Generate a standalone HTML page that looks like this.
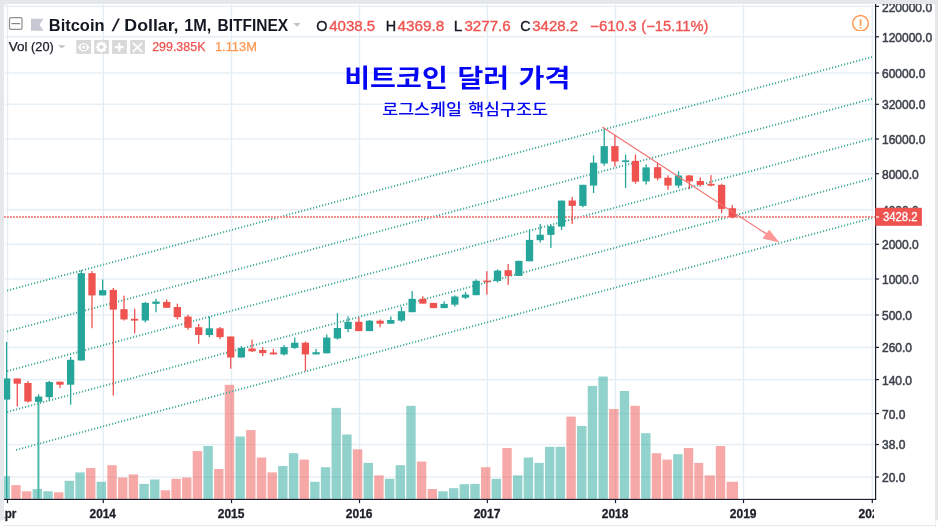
<!DOCTYPE html>
<html lang="ko"><head><meta charset="utf-8"><title>Bitcoin / Dollar, 1M, BITFINEX</title>
<style>html,body{margin:0;padding:0;background:#fff;overflow:hidden}svg{display:block}text{font-family:"Liberation Sans","Noto Sans CJK KR",sans-serif}.ax{font-size:12px;fill:#3c414b;stroke:#3c414b;stroke-width:.5px}.tm{font-size:11.5px;font-weight:bold;fill:#1c1f28}.ko{font-family:"Noto Sans CJK KR","NanumGothic",sans-serif}</style></head><body>
<svg width="938" height="528" viewBox="0 0 938 528">
<rect x="0" y="0" width="938" height="528" fill="#e4e8eb"/>
<path d="M4 528V7a3 3 0 0 1 3-3H932a3 3 0 0 1 3 3V528Z" fill="#fff"/>
<rect x="4" y="525" width="931" height="1.2" fill="#e6eaed"/>
<path d="M0 528V523a3 3 0 0 1 3-3H4V528Z" fill="#fff"/>
<path d="M938 528V522a2 2 0 0 0-2-2H935.6V528Z" fill="#fff"/>
<g fill="#e5eef4">
<rect x="5" y="5.7" width="870" height="1.4"/>
<rect x="5" y="36.1" width="870" height="1.4"/>
<rect x="5" y="72.3" width="870" height="1.4"/>
<rect x="5" y="103.6" width="870" height="1.4"/>
<rect x="5" y="138.3" width="870" height="1.4"/>
<rect x="5" y="173.0" width="870" height="1.4"/>
<rect x="5" y="209.0" width="870" height="1.4"/>
<rect x="5" y="243.6" width="870" height="1.4"/>
<rect x="5" y="278.3" width="870" height="1.4"/>
<rect x="5" y="314.3" width="870" height="1.4"/>
<rect x="5" y="346.7" width="870" height="1.4"/>
<rect x="5" y="378.9" width="870" height="1.4"/>
<rect x="5" y="412.9" width="870" height="1.4"/>
<rect x="5" y="443.8" width="870" height="1.4"/>
<rect x="5" y="476.3" width="870" height="1.4"/>
<rect x="6.8" y="4" width="1.4" height="495"/>
<rect x="102.6" y="4" width="1.4" height="495"/>
<rect x="230.8" y="4" width="1.4" height="495"/>
<rect x="358.8" y="4" width="1.4" height="495"/>
<rect x="486.7" y="4" width="1.4" height="495"/>
<rect x="614.8" y="4" width="1.4" height="495"/>
<rect x="742.8" y="4" width="1.4" height="495"/>
<rect x="871.6" y="4" width="1.4" height="495"/>
</g>
<g>
<rect x="4.00" y="476.2" width="6.00" height="22.8" fill="rgba(38,166,154,.5)"/>
<rect x="11.28" y="485.1" width="9.40" height="13.9" fill="rgba(239,83,80,.5)"/>
<rect x="21.95" y="491.3" width="9.40" height="7.7" fill="rgba(239,83,80,.5)"/>
<rect x="32.63" y="489.0" width="9.40" height="10.0" fill="rgba(38,166,154,.5)"/>
<rect x="43.30" y="491.3" width="9.40" height="7.7" fill="rgba(38,166,154,.5)"/>
<rect x="53.98" y="492.3" width="9.40" height="6.7" fill="rgba(239,83,80,.5)"/>
<rect x="64.65" y="480.8" width="9.40" height="18.2" fill="rgba(38,166,154,.5)"/>
<rect x="75.33" y="472.4" width="9.40" height="26.6" fill="rgba(38,166,154,.5)"/>
<rect x="86.00" y="468.0" width="9.40" height="31.0" fill="rgba(239,83,80,.5)"/>
<rect x="96.67" y="481.8" width="9.40" height="17.2" fill="rgba(38,166,154,.5)"/>
<rect x="107.35" y="465.2" width="9.40" height="33.8" fill="rgba(239,83,80,.5)"/>
<rect x="118.03" y="477.5" width="9.40" height="21.5" fill="rgba(239,83,80,.5)"/>
<rect x="128.70" y="474.4" width="9.40" height="24.6" fill="rgba(239,83,80,.5)"/>
<rect x="139.38" y="483.9" width="9.40" height="15.1" fill="rgba(38,166,154,.5)"/>
<rect x="150.05" y="479.5" width="9.40" height="19.5" fill="rgba(38,166,154,.5)"/>
<rect x="160.72" y="490.3" width="9.40" height="8.7" fill="rgba(239,83,80,.5)"/>
<rect x="171.40" y="478.8" width="9.40" height="20.2" fill="rgba(239,83,80,.5)"/>
<rect x="182.08" y="477.5" width="9.40" height="21.5" fill="rgba(239,83,80,.5)"/>
<rect x="192.75" y="451.1" width="9.40" height="47.9" fill="rgba(239,83,80,.5)"/>
<rect x="203.43" y="446.0" width="9.40" height="53.0" fill="rgba(38,166,154,.5)"/>
<rect x="214.10" y="469.0" width="9.40" height="30.0" fill="rgba(239,83,80,.5)"/>
<rect x="224.78" y="384.8" width="9.40" height="114.2" fill="rgba(239,83,80,.5)"/>
<rect x="235.45" y="436.5" width="9.40" height="62.5" fill="rgba(38,166,154,.5)"/>
<rect x="246.12" y="430.1" width="9.40" height="68.9" fill="rgba(239,83,80,.5)"/>
<rect x="256.80" y="457.5" width="9.40" height="41.5" fill="rgba(239,83,80,.5)"/>
<rect x="267.48" y="472.4" width="9.40" height="26.6" fill="rgba(239,83,80,.5)"/>
<rect x="278.15" y="466.0" width="9.40" height="33.0" fill="rgba(38,166,154,.5)"/>
<rect x="288.83" y="453.2" width="9.40" height="45.8" fill="rgba(38,166,154,.5)"/>
<rect x="299.50" y="459.6" width="9.40" height="39.4" fill="rgba(239,83,80,.5)"/>
<rect x="310.18" y="481.8" width="9.40" height="17.2" fill="rgba(38,166,154,.5)"/>
<rect x="320.85" y="467.2" width="9.40" height="31.8" fill="rgba(38,166,154,.5)"/>
<rect x="331.53" y="407.9" width="9.40" height="91.1" fill="rgba(38,166,154,.5)"/>
<rect x="342.20" y="434.5" width="9.40" height="64.5" fill="rgba(38,166,154,.5)"/>
<rect x="352.88" y="449.3" width="9.40" height="49.7" fill="rgba(239,83,80,.5)"/>
<rect x="363.55" y="462.9" width="9.40" height="36.1" fill="rgba(38,166,154,.5)"/>
<rect x="374.23" y="475.4" width="9.40" height="23.6" fill="rgba(239,83,80,.5)"/>
<rect x="384.90" y="478.8" width="9.40" height="20.2" fill="rgba(38,166,154,.5)"/>
<rect x="395.58" y="465.2" width="9.40" height="33.8" fill="rgba(38,166,154,.5)"/>
<rect x="406.25" y="405.8" width="9.40" height="93.2" fill="rgba(38,166,154,.5)"/>
<rect x="416.93" y="461.6" width="9.40" height="37.4" fill="rgba(239,83,80,.5)"/>
<rect x="427.60" y="489.0" width="9.40" height="10.0" fill="rgba(239,83,80,.5)"/>
<rect x="438.28" y="491.3" width="9.40" height="7.7" fill="rgba(38,166,154,.5)"/>
<rect x="448.95" y="488.2" width="9.40" height="10.8" fill="rgba(38,166,154,.5)"/>
<rect x="459.63" y="484.2" width="9.40" height="14.8" fill="rgba(38,166,154,.5)"/>
<rect x="470.30" y="483.9" width="9.40" height="15.1" fill="rgba(38,166,154,.5)"/>
<rect x="480.98" y="467.2" width="9.40" height="31.8" fill="rgba(239,83,80,.5)"/>
<rect x="491.65" y="478.8" width="9.40" height="20.2" fill="rgba(38,166,154,.5)"/>
<rect x="502.33" y="448.0" width="9.40" height="51.0" fill="rgba(239,83,80,.5)"/>
<rect x="513.00" y="475.4" width="9.40" height="23.6" fill="rgba(38,166,154,.5)"/>
<rect x="523.68" y="457.5" width="9.40" height="41.5" fill="rgba(38,166,154,.5)"/>
<rect x="534.35" y="462.9" width="9.40" height="36.1" fill="rgba(38,166,154,.5)"/>
<rect x="545.03" y="446.8" width="9.40" height="52.2" fill="rgba(38,166,154,.5)"/>
<rect x="555.70" y="446.8" width="9.40" height="52.2" fill="rgba(38,166,154,.5)"/>
<rect x="566.38" y="416.6" width="9.40" height="82.4" fill="rgba(239,83,80,.5)"/>
<rect x="577.05" y="426.0" width="9.40" height="73.0" fill="rgba(38,166,154,.5)"/>
<rect x="587.73" y="385.9" width="9.40" height="113.1" fill="rgba(38,166,154,.5)"/>
<rect x="598.40" y="376.5" width="9.40" height="122.5" fill="rgba(38,166,154,.5)"/>
<rect x="609.08" y="409.0" width="9.40" height="90.0" fill="rgba(239,83,80,.5)"/>
<rect x="619.75" y="391.0" width="9.40" height="108.0" fill="rgba(38,166,154,.5)"/>
<rect x="630.43" y="405.8" width="9.40" height="93.2" fill="rgba(239,83,80,.5)"/>
<rect x="641.10" y="433.2" width="9.40" height="65.8" fill="rgba(38,166,154,.5)"/>
<rect x="651.78" y="453.2" width="9.40" height="45.8" fill="rgba(239,83,80,.5)"/>
<rect x="662.45" y="459.6" width="9.40" height="39.4" fill="rgba(239,83,80,.5)"/>
<rect x="673.13" y="454.2" width="9.40" height="44.8" fill="rgba(38,166,154,.5)"/>
<rect x="683.80" y="448.0" width="9.40" height="51.0" fill="rgba(239,83,80,.5)"/>
<rect x="694.30" y="462.9" width="8.90" height="36.1" fill="rgba(239,83,80,.5)"/>
<rect x="704.60" y="475.4" width="10.30" height="23.6" fill="rgba(239,83,80,.5)"/>
<rect x="715.83" y="446.0" width="9.40" height="53.0" fill="rgba(239,83,80,.5)"/>
<rect x="726.60" y="481.8" width="11.40" height="17.2" fill="rgba(239,83,80,.5)"/>
</g>
<g stroke="#4aae9c" stroke-width="1.9" stroke-dasharray="1.2 1.8" fill="none">
<line x1="7" y1="0" x2="872.0" y2="0" transform="matrix(1 -0.27010 0 1 0 292.53)"/>
<line x1="7" y1="0" x2="872.0" y2="0" transform="matrix(1 -0.26906 0 1 0 333.32)"/>
<line x1="7" y1="0" x2="872.0" y2="0" transform="matrix(1 -0.26894 0 1 0 373.02)"/>
<line x1="7" y1="0" x2="872.0" y2="0" transform="matrix(1 -0.27010 0 1 0 413.83)"/>
<line x1="16" y1="0" x2="872.0" y2="0" transform="matrix(1 -0.27098 0 1 0 454.30)"/>
</g>
<line x1="4" y1="217" x2="875" y2="217" stroke="#f28a88" stroke-width="2" stroke-dasharray="1.9 1.1"/>
<g>
<rect x="5.95" y="341.9" width="1.3" height="156.6" fill="#26a69a"/>
<rect x="4.00" y="378.4" width="6.25" height="21.2" fill="#26a69a"/>
<rect x="16.62" y="378.5" width="1.3" height="28.0" fill="#ef5350"/>
<rect x="13.62" y="378.5" width="7.30" height="5.2" fill="#ef5350"/>
<rect x="27.29" y="381.0" width="1.3" height="21.5" fill="#ef5350"/>
<rect x="24.29" y="383.0" width="7.30" height="18.5" fill="#ef5350"/>
<rect x="37.42" y="401.9" width="2" height="96.6" fill="#4fb6ab"/>
<rect x="37.97" y="394.3" width="1.3" height="7.6" fill="#26a69a"/>
<rect x="34.97" y="396.6" width="7.30" height="5.3" fill="#26a69a"/>
<rect x="48.64" y="381.0" width="1.3" height="20.0" fill="#26a69a"/>
<rect x="45.64" y="382.0" width="7.30" height="15.2" fill="#26a69a"/>
<rect x="59.31" y="381.7" width="1.3" height="6.3" fill="#ef5350"/>
<rect x="56.31" y="381.7" width="7.30" height="3.0" fill="#ef5350"/>
<rect x="69.98" y="356.9" width="1.3" height="47.9" fill="#26a69a"/>
<rect x="66.98" y="359.8" width="7.30" height="24.9" fill="#26a69a"/>
<rect x="80.65" y="270.2" width="1.3" height="90.3" fill="#26a69a"/>
<rect x="77.65" y="273.2" width="7.30" height="87.3" fill="#26a69a"/>
<rect x="91.33" y="271.0" width="1.3" height="57.2" fill="#ef5350"/>
<rect x="88.33" y="273.2" width="7.30" height="22.2" fill="#ef5350"/>
<rect x="102.00" y="279.5" width="1.3" height="15.9" fill="#26a69a"/>
<rect x="99.00" y="290.2" width="7.30" height="5.2" fill="#26a69a"/>
<rect x="112.67" y="287.9" width="1.3" height="107.7" fill="#ef5350"/>
<rect x="109.67" y="289.9" width="7.30" height="19.7" fill="#ef5350"/>
<rect x="123.34" y="295.6" width="1.3" height="24.9" fill="#ef5350"/>
<rect x="120.34" y="309.2" width="7.30" height="10.2" fill="#ef5350"/>
<rect x="134.01" y="308.8" width="1.3" height="24.6" fill="#ef5350"/>
<rect x="131.01" y="318.8" width="7.30" height="1.8" fill="#ef5350"/>
<rect x="144.69" y="302.0" width="1.3" height="20.5" fill="#26a69a"/>
<rect x="141.69" y="302.9" width="7.30" height="17.6" fill="#26a69a"/>
<rect x="155.36" y="298.7" width="1.3" height="13.6" fill="#26a69a"/>
<rect x="152.36" y="301.5" width="7.30" height="2.4" fill="#26a69a"/>
<rect x="166.03" y="299.5" width="1.3" height="8.3" fill="#ef5350"/>
<rect x="163.03" y="301.9" width="7.30" height="5.9" fill="#ef5350"/>
<rect x="176.70" y="303.7" width="1.3" height="15.7" fill="#ef5350"/>
<rect x="173.70" y="307.0" width="7.30" height="10.1" fill="#ef5350"/>
<rect x="187.37" y="314.7" width="1.3" height="15.1" fill="#ef5350"/>
<rect x="184.37" y="316.6" width="7.30" height="11.2" fill="#ef5350"/>
<rect x="198.05" y="324.0" width="1.3" height="19.8" fill="#ef5350"/>
<rect x="195.05" y="327.2" width="7.30" height="7.8" fill="#ef5350"/>
<rect x="208.72" y="316.6" width="1.3" height="20.5" fill="#26a69a"/>
<rect x="205.72" y="328.3" width="7.30" height="6.7" fill="#26a69a"/>
<rect x="219.39" y="327.0" width="1.3" height="12.1" fill="#ef5350"/>
<rect x="216.39" y="328.3" width="7.30" height="8.8" fill="#ef5350"/>
<rect x="230.06" y="336.5" width="1.3" height="32.2" fill="#ef5350"/>
<rect x="227.06" y="336.5" width="7.30" height="21.0" fill="#ef5350"/>
<rect x="240.73" y="346.0" width="1.3" height="11.5" fill="#26a69a"/>
<rect x="237.73" y="347.9" width="7.30" height="9.6" fill="#26a69a"/>
<rect x="251.41" y="339.6" width="1.3" height="12.4" fill="#ef5350"/>
<rect x="248.41" y="348.5" width="7.30" height="2.8" fill="#ef5350"/>
<rect x="262.08" y="347.1" width="1.3" height="9.1" fill="#ef5350"/>
<rect x="259.08" y="350.0" width="7.30" height="3.1" fill="#ef5350"/>
<rect x="272.75" y="348.9" width="1.3" height="5.5" fill="#ef5350"/>
<rect x="269.75" y="352.5" width="7.30" height="1.9" fill="#ef5350"/>
<rect x="283.42" y="345.0" width="1.3" height="10.5" fill="#26a69a"/>
<rect x="280.42" y="347.1" width="7.30" height="7.3" fill="#26a69a"/>
<rect x="294.09" y="337.6" width="1.3" height="11.3" fill="#26a69a"/>
<rect x="291.09" y="342.7" width="7.30" height="5.2" fill="#26a69a"/>
<rect x="304.77" y="341.6" width="1.3" height="29.6" fill="#ef5350"/>
<rect x="301.77" y="342.7" width="7.30" height="11.7" fill="#ef5350"/>
<rect x="315.44" y="348.9" width="1.3" height="5.5" fill="#26a69a"/>
<rect x="312.44" y="352.2" width="7.30" height="2.2" fill="#26a69a"/>
<rect x="326.11" y="334.5" width="1.3" height="18.8" fill="#26a69a"/>
<rect x="323.11" y="337.6" width="7.30" height="15.7" fill="#26a69a"/>
<rect x="336.78" y="313.2" width="1.3" height="26.4" fill="#26a69a"/>
<rect x="333.78" y="328.0" width="7.30" height="10.5" fill="#26a69a"/>
<rect x="347.45" y="316.3" width="1.3" height="15.9" fill="#26a69a"/>
<rect x="344.45" y="321.8" width="7.30" height="7.2" fill="#26a69a"/>
<rect x="358.13" y="317.3" width="1.3" height="13.8" fill="#ef5350"/>
<rect x="355.13" y="321.8" width="7.30" height="9.3" fill="#ef5350"/>
<rect x="368.80" y="320.0" width="1.3" height="11.1" fill="#26a69a"/>
<rect x="365.80" y="320.7" width="7.30" height="10.4" fill="#26a69a"/>
<rect x="379.47" y="319.5" width="1.3" height="7.8" fill="#ef5350"/>
<rect x="376.47" y="320.7" width="7.30" height="3.0" fill="#ef5350"/>
<rect x="390.14" y="316.4" width="1.3" height="7.3" fill="#26a69a"/>
<rect x="387.14" y="320.0" width="7.30" height="3.7" fill="#26a69a"/>
<rect x="400.81" y="307.0" width="1.3" height="14.8" fill="#26a69a"/>
<rect x="397.81" y="311.2" width="7.30" height="9.4" fill="#26a69a"/>
<rect x="411.49" y="291.0" width="1.3" height="21.2" fill="#26a69a"/>
<rect x="408.49" y="298.8" width="7.30" height="13.4" fill="#26a69a"/>
<rect x="422.16" y="296.2" width="1.3" height="7.4" fill="#ef5350"/>
<rect x="419.16" y="298.8" width="7.30" height="4.8" fill="#ef5350"/>
<rect x="432.83" y="302.9" width="1.3" height="5.2" fill="#ef5350"/>
<rect x="429.83" y="302.9" width="7.30" height="5.2" fill="#ef5350"/>
<rect x="443.50" y="301.3" width="1.3" height="6.8" fill="#26a69a"/>
<rect x="440.50" y="303.9" width="7.30" height="4.2" fill="#26a69a"/>
<rect x="454.17" y="295.4" width="1.3" height="11.2" fill="#26a69a"/>
<rect x="451.17" y="296.5" width="7.30" height="8.2" fill="#26a69a"/>
<rect x="464.85" y="292.0" width="1.3" height="7.0" fill="#26a69a"/>
<rect x="461.85" y="294.6" width="7.30" height="3.1" fill="#26a69a"/>
<rect x="475.52" y="279.4" width="1.3" height="15.8" fill="#26a69a"/>
<rect x="472.52" y="280.8" width="7.30" height="14.4" fill="#26a69a"/>
<rect x="486.19" y="271.2" width="1.3" height="23.4" fill="#ef5350"/>
<rect x="483.19" y="280.6" width="7.30" height="1.5" fill="#ef5350"/>
<rect x="496.86" y="269.4" width="1.3" height="13.2" fill="#26a69a"/>
<rect x="493.86" y="270.6" width="7.30" height="10.4" fill="#26a69a"/>
<rect x="507.53" y="263.9" width="1.3" height="21.0" fill="#ef5350"/>
<rect x="504.53" y="270.2" width="7.30" height="5.7" fill="#ef5350"/>
<rect x="518.21" y="260.8" width="1.3" height="15.1" fill="#26a69a"/>
<rect x="515.21" y="260.8" width="7.30" height="15.1" fill="#26a69a"/>
<rect x="528.88" y="229.3" width="1.3" height="32.0" fill="#26a69a"/>
<rect x="525.88" y="239.9" width="7.30" height="21.4" fill="#26a69a"/>
<rect x="539.55" y="224.0" width="1.3" height="18.5" fill="#26a69a"/>
<rect x="536.55" y="234.7" width="7.30" height="5.5" fill="#26a69a"/>
<rect x="550.22" y="224.6" width="1.3" height="23.3" fill="#26a69a"/>
<rect x="547.22" y="226.2" width="7.30" height="8.7" fill="#26a69a"/>
<rect x="560.89" y="200.6" width="1.3" height="29.4" fill="#26a69a"/>
<rect x="557.89" y="200.6" width="7.30" height="26.0" fill="#26a69a"/>
<rect x="571.57" y="197.0" width="1.3" height="27.1" fill="#ef5350"/>
<rect x="568.57" y="200.5" width="7.30" height="5.4" fill="#ef5350"/>
<rect x="582.24" y="184.8" width="1.3" height="22.5" fill="#26a69a"/>
<rect x="579.24" y="184.8" width="7.30" height="21.1" fill="#26a69a"/>
<rect x="592.91" y="155.4" width="1.3" height="37.6" fill="#26a69a"/>
<rect x="589.91" y="162.7" width="7.30" height="22.9" fill="#26a69a"/>
<rect x="603.58" y="128.1" width="1.3" height="37.7" fill="#26a69a"/>
<rect x="600.58" y="146.1" width="7.30" height="17.4" fill="#26a69a"/>
<rect x="614.25" y="135.2" width="1.3" height="31.4" fill="#ef5350"/>
<rect x="611.25" y="146.1" width="7.30" height="15.4" fill="#ef5350"/>
<rect x="624.93" y="154.5" width="1.3" height="33.4" fill="#26a69a"/>
<rect x="621.93" y="160.4" width="7.30" height="1.6" fill="#26a69a"/>
<rect x="634.80" y="154.5" width="1.3" height="29.2" fill="#ef5350"/>
<rect x="631.80" y="160.9" width="7.30" height="20.8" fill="#ef5350"/>
<rect x="645.47" y="164.3" width="1.3" height="20.2" fill="#26a69a"/>
<rect x="642.47" y="167.4" width="7.30" height="14.0" fill="#26a69a"/>
<rect x="656.94" y="163.2" width="1.3" height="17.2" fill="#ef5350"/>
<rect x="653.94" y="167.2" width="7.30" height="11.1" fill="#ef5350"/>
<rect x="667.31" y="175.3" width="1.3" height="14.5" fill="#ef5350"/>
<rect x="664.31" y="177.7" width="7.30" height="7.9" fill="#ef5350"/>
<rect x="677.89" y="171.2" width="1.3" height="16.8" fill="#26a69a"/>
<rect x="674.89" y="175.5" width="7.30" height="10.1" fill="#26a69a"/>
<rect x="688.76" y="175.0" width="1.3" height="14.2" fill="#ef5350"/>
<rect x="685.76" y="175.5" width="7.30" height="5.9" fill="#ef5350"/>
<rect x="699.63" y="177.4" width="1.3" height="9.3" fill="#ef5350"/>
<rect x="696.63" y="181.0" width="7.30" height="3.9" fill="#ef5350"/>
<rect x="710.30" y="175.2" width="1.3" height="11.2" fill="#ef5350"/>
<rect x="707.30" y="183.8" width="7.30" height="1.8" fill="#ef5350"/>
<rect x="720.97" y="183.6" width="1.3" height="29.5" fill="#ef5350"/>
<rect x="717.97" y="184.9" width="7.30" height="24.0" fill="#ef5350"/>
<rect x="731.65" y="205.1" width="1.3" height="13.2" fill="#ef5350"/>
<rect x="728.65" y="208.2" width="7.30" height="9.0" fill="#ef5350"/>
</g>
<line x1="602.3" y1="127" x2="768" y2="235" stroke="#f4706e" stroke-width="1.2"/>
<path d="M779.4 242.6L769.2 229.8L762.4 238.6Z" fill="#ff9696"/>
<rect x="4" y="498.85" width="872.2" height="1.15" fill="#1c2030"/>
<rect x="875" y="4" width="1.2" height="496" fill="#1c2030"/>
<g fill="#1c2030">
<rect x="876" y="5.8" width="3" height="1.2"/>
<rect x="876" y="36.2" width="3" height="1.2"/>
<rect x="876" y="72.4" width="3" height="1.2"/>
<rect x="876" y="103.7" width="3" height="1.2"/>
<rect x="876" y="138.4" width="3" height="1.2"/>
<rect x="876" y="173.1" width="3" height="1.2"/>
<rect x="876" y="209.1" width="3" height="1.2"/>
<rect x="876" y="243.7" width="3" height="1.2"/>
<rect x="876" y="278.4" width="3" height="1.2"/>
<rect x="876" y="314.4" width="3" height="1.2"/>
<rect x="876" y="346.8" width="3" height="1.2"/>
<rect x="876" y="379.0" width="3" height="1.2"/>
<rect x="876" y="413.0" width="3" height="1.2"/>
<rect x="876" y="443.9" width="3" height="1.2"/>
<rect x="876" y="476.4" width="3" height="1.2"/>
<rect x="6.9" y="499.5" width="1.2" height="3.6"/>
<rect x="102.7" y="499.5" width="1.2" height="3.6"/>
<rect x="230.9" y="499.5" width="1.2" height="3.6"/>
<rect x="358.9" y="499.5" width="1.2" height="3.6"/>
<rect x="486.8" y="499.5" width="1.2" height="3.6"/>
<rect x="614.9" y="499.5" width="1.2" height="3.6"/>
<rect x="742.9" y="499.5" width="1.2" height="3.6"/>
<rect x="871.7" y="499.5" width="1.2" height="3.6"/>
</g>
<defs><clipPath id="cp"><rect x="876" y="4" width="59" height="521"/></clipPath><clipPath id="ct"><rect x="4" y="500" width="870" height="25"/></clipPath></defs>
<g class="ax" clip-path="url(#cp)">
<text x="882" y="11.8">220000.0</text>
<text x="882" y="41.7">120000.0</text>
<text x="882" y="77.9">60000.0</text>
<text x="882" y="109.2">32000.0</text>
<text x="882" y="143.9">16000.0</text>
<text x="882" y="178.6">8000.0</text>
<text x="882" y="214.6">4000.0</text>
<text x="882" y="249.2">2000.0</text>
<text x="882" y="283.9">1000.0</text>
<text x="882" y="319.9">500.0</text>
<text x="882" y="352.3">260.0</text>
<text x="882" y="384.5">140.0</text>
<text x="882" y="418.5">70.0</text>
<text x="882" y="449.4">38.0</text>
<text x="882" y="481.9">20.0</text>
</g>
<rect x="875.3" y="207.8" width="46.6" height="18" fill="#ef5350"/>
<rect x="876" y="216.4" width="3" height="1.2" fill="#fff"/>
<text x="883" y="221" font-size="12" fill="#fff" stroke="#fff" stroke-width=".3" textLength="34.5" lengthAdjust="spacingAndGlyphs">3428.2</text>
<g clip-path="url(#ct)">
<text x="-3.7" y="517.9" font-size="12.2" font-weight="bold" fill="#1c1f28" stroke="#1c1f28" stroke-width=".3" textLength="20.1" lengthAdjust="spacingAndGlyphs">Apr</text>
<text x="89.58" y="517.9" font-size="12.2" fill="#1c1f28" font-weight="bold" textLength="26.33" lengthAdjust="spacingAndGlyphs" stroke="#1c1f28" stroke-width=".3">2014</text>
<text x="217.77" y="517.9" font-size="12.2" fill="#1c1f28" font-weight="bold" textLength="26.68" lengthAdjust="spacingAndGlyphs" stroke="#1c1f28" stroke-width=".3">2015</text>
<text x="345.77" y="517.9" font-size="12.2" fill="#1c1f28" font-weight="bold" textLength="26.77" lengthAdjust="spacingAndGlyphs" stroke="#1c1f28" stroke-width=".3">2016</text>
<text x="473.67" y="517.9" font-size="12.2" fill="#1c1f28" font-weight="bold" textLength="26.81" lengthAdjust="spacingAndGlyphs" stroke="#1c1f28" stroke-width=".3">2017</text>
<text x="601.77" y="517.9" font-size="12.2" fill="#1c1f28" font-weight="bold" textLength="26.70" lengthAdjust="spacingAndGlyphs" stroke="#1c1f28" stroke-width=".3">2018</text>
<text x="729.77" y="517.9" font-size="12.2" fill="#1c1f28" font-weight="bold" textLength="26.76" lengthAdjust="spacingAndGlyphs" stroke="#1c1f28" stroke-width=".3">2019</text>
<text x="858.57" y="517.9" font-size="12.2" fill="#1c1f28" font-weight="bold" textLength="26.80" lengthAdjust="spacingAndGlyphs" stroke="#1c1f28" stroke-width=".3">2020</text>
</g>
<rect x="9.5" y="17.7" width="12.5" height="11.7" rx="1.6" fill="#fff" stroke="#8e8e8e" stroke-width="1.2"/>
<rect x="11.4" y="23" width="8.7" height="1.2" fill="#858585"/>
<path d="M31 18.8H43.5L39.5 24.75L43.5 30.7H31Z" fill="#c6c9d4"/>
<path d="M293.3 23L300.7 23L297 26.8Z" fill="#c4c4c4"/>
<text transform="translate(111.6,30.6) skewX(-17)" font-size="17.2" font-weight="bold" fill="#131722">/</text>
<text x="48.77" y="30.6" font-size="17.2" fill="#131722" font-weight="bold" textLength="55.74" lengthAdjust="spacingAndGlyphs">Bitcoin</text>
<text x="124.39" y="30.6" font-size="17.2" fill="#131722" font-weight="bold" textLength="54.12" lengthAdjust="spacingAndGlyphs">Dollar,</text>
<text x="184.16" y="30.6" font-size="17.2" fill="#131722" font-weight="bold" textLength="27.12" lengthAdjust="spacingAndGlyphs">1M,</text>
<text x="217.44" y="30.6" font-size="17.2" fill="#131722" font-weight="bold" textLength="70.68" lengthAdjust="spacingAndGlyphs">BITFINEX</text>
<text x="316.26" y="30.6" font-size="14.4" fill="#131722" textLength="11.20" lengthAdjust="spacingAndGlyphs" stroke="#131722" stroke-width=".35">O</text>
<text x="329.24" y="30.6" font-size="14.4" fill="#ef5350" textLength="45.94" lengthAdjust="spacingAndGlyphs" stroke="#ef5350" stroke-width=".35">4038.5</text>
<text x="385.79" y="30.6" font-size="14.4" fill="#131722" textLength="10.39" lengthAdjust="spacingAndGlyphs" stroke="#131722" stroke-width=".35">H</text>
<text x="397.43" y="30.6" font-size="14.4" fill="#ef5350" textLength="46.93" lengthAdjust="spacingAndGlyphs" stroke="#ef5350" stroke-width=".35">4369.8</text>
<text x="453.70" y="30.6" font-size="14.4" fill="#131722" textLength="8.63" lengthAdjust="spacingAndGlyphs" stroke="#131722" stroke-width=".35">L</text>
<text x="464.44" y="30.6" font-size="14.4" fill="#ef5350" textLength="46.28" lengthAdjust="spacingAndGlyphs" stroke="#ef5350" stroke-width=".35">3277.6</text>
<text x="520.23" y="30.6" font-size="14.4" fill="#131722" textLength="10.29" lengthAdjust="spacingAndGlyphs" stroke="#131722" stroke-width=".35">C</text>
<text x="532.24" y="30.6" font-size="14.4" fill="#ef5350" textLength="45.82" lengthAdjust="spacingAndGlyphs" stroke="#ef5350" stroke-width=".35">3428.2</text>
<text x="590.13" y="30.6" font-size="14.4" fill="#ef5350" textLength="46.56" lengthAdjust="spacingAndGlyphs" stroke="#ef5350" stroke-width=".35">−610.3</text>
<text x="641.35" y="30.6" font-size="14.4" fill="#ef5350" textLength="67.16" lengthAdjust="spacingAndGlyphs" stroke="#ef5350" stroke-width=".35">(−15.11%)</text>
<text x="8.71" y="50.7" font-size="12.2" fill="#1c1f28" textLength="18.79" lengthAdjust="spacingAndGlyphs" stroke="#1c1f28" stroke-width=".25">Vol</text>
<text x="31.08" y="50.7" font-size="12.2" fill="#1c1f28" textLength="22.62" lengthAdjust="spacingAndGlyphs" stroke="#1c1f28" stroke-width=".25">(20)</text>
<path d="M58 45.3L65.6 45.3L61.8 48.6Z" fill="#c4c4c4"/>
<rect x="76.3" y="40" width="14.8" height="13.9" fill="#d9d9d9"/>
<rect x="94.1" y="40" width="14.8" height="13.9" fill="#d9d9d9"/>
<rect x="112.1" y="40" width="14.8" height="13.9" fill="#d9d9d9"/>
<rect x="130.1" y="40" width="14.8" height="13.9" fill="#d9d9d9"/>
<path d="M77.9 47.2Q83.65 38.6 89.4 47.2Q83.65 55.8 77.9 47.2Z" fill="#fff"/>
<circle cx="83.65" cy="47.2" r="2.3" fill="none" stroke="#d3d3d3" stroke-width="1.3"/>
<path d="M106.82 45.78L106.82 48.22L105.03 48.56L105.06 48.50L106.08 50.00L104.35 51.73L102.85 50.71L102.91 50.68L102.57 52.47L100.13 52.47L99.79 50.68L99.85 50.71L98.35 51.73L96.62 50.00L97.64 48.50L97.67 48.56L95.88 48.22L95.88 45.78L97.67 45.44L97.64 45.50L96.62 44.00L98.35 42.27L99.85 43.29L99.79 43.32L100.13 41.53L102.57 41.53L102.91 43.32L102.85 43.29L104.35 42.27L106.08 44.00L105.06 45.50L105.03 45.44Z" fill="#fff"/>
<circle cx="101.35" cy="47.00" r="2.1" fill="#d6d6d6"/>
<path d="M119.25 42.7V51.5M114.8 47.1H123.7" stroke="#fff" stroke-width="2.3" fill="none"/>
<path d="M132.8 42.8L142.2 51.8M142.2 42.8L132.8 51.8" stroke="#fff" stroke-width="1.8" fill="none"/>
<text x="152.16" y="51.4" font-size="12.2" fill="#ef5350" textLength="53.28" lengthAdjust="spacingAndGlyphs" stroke="#ef5350" stroke-width=".25">299.385K</text>
<text x="214.93" y="51.4" font-size="12.2" fill="#ff9850" textLength="41.94" lengthAdjust="spacingAndGlyphs" stroke="#ff9850" stroke-width=".25">1.113M</text>
<defs><clipPath id="ca"><rect x="850" y="13" width="22" height="17.9"/></clipPath></defs>
<g clip-path="url(#ca)"><circle cx="860.5" cy="23.2" r="7.8" fill="none" stroke="#ff9850" stroke-width="1.5"/></g>
<rect x="859.7" y="19.3" width="1.7" height="6.5" fill="#ff9850"/><rect x="859.7" y="27" width="1.7" height="1.6" fill="#ff9850"/>
<text x="344.23" y="87.1" font-size="24.5" fill="#0505f5" font-weight="bold" textLength="103.56" lengthAdjust="spacingAndGlyphs" class="ko">비트코인</text>
<text x="457.49" y="87.1" font-size="24.5" fill="#0505f5" font-weight="bold" textLength="51.72" lengthAdjust="spacingAndGlyphs" class="ko">달러</text>
<text x="518.50" y="87.1" font-size="24.5" fill="#0505f5" font-weight="bold" textLength="51.81" lengthAdjust="spacingAndGlyphs" class="ko">가격</text>
<text x="382.20" y="114.5" font-size="16" fill="#0808ee" textLength="79.79" lengthAdjust="spacingAndGlyphs" class="ko" font-weight="500">로그스케일</text>
<text x="468.18" y="114.5" font-size="16" fill="#0808ee" textLength="79.70" lengthAdjust="spacingAndGlyphs" class="ko" font-weight="500">핵심구조도</text>
</svg></body></html>
